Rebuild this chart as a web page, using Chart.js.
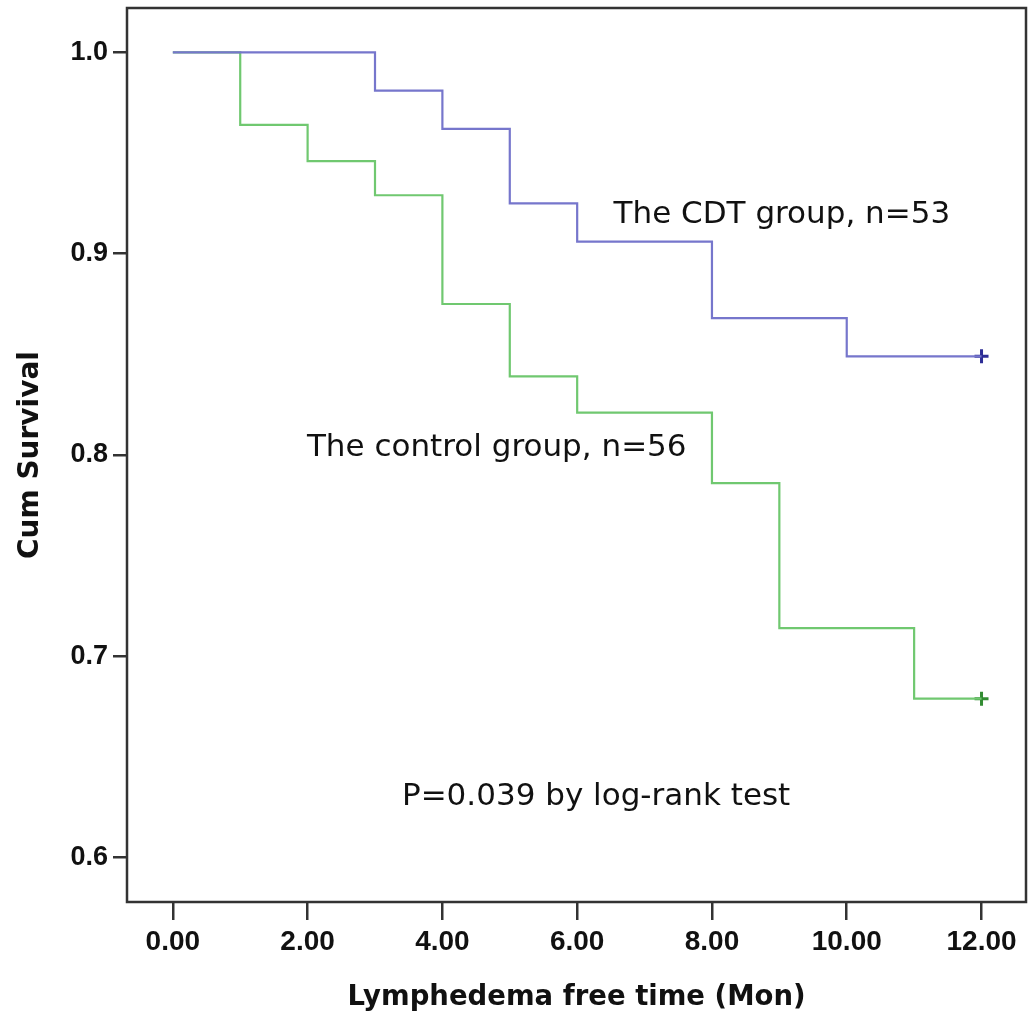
<!DOCTYPE html>
<html>
<head>
<meta charset="utf-8">
<script src="https://cdn.jsdelivr.net/npm/chart.js@4/dist/chart.umd.min.js"></script>
<style>
  body { margin: 0; background: #fff; }
  #wrap { width: 1028px; height: 1019px; position: relative; }
</style>
</head>
<body>
<div id="wrap"><canvas id="kmChart"></canvas></div>
<script>
// survival steps (time in months, cumulative survival)
const cdtTime = [0, 3, 4, 5, 6, 8, 10, 12];
const cdtSurv = [1.0, 0.981, 0.962, 0.925, 0.906, 0.868, 0.849, 0.849];
const ctrlTime = [0, 1, 2, 3, 4, 5, 6, 8, 9, 11, 12];
const ctrlSurv = [1.0, 0.964, 0.946, 0.929, 0.875, 0.839, 0.821, 0.786, 0.714, 0.679, 0.679];

// censored marks
const cdtCensorTime = [12];
const cdtCensorSurv = [0.849];
const ctrlCensorTime = [12];
const ctrlCensorSurv = [0.679];

const xTicks = [0, 2, 4, 6, 8, 10, 12];
const yTicks = [0.6, 0.7, 0.8, 0.9, 1.0];

// in-plot notes, anchored at data coordinates (left edge, middle)
const noteTexts = ['The CDT group, n=53', 'The control group, n=56', 'P=0.039 by log-rank test'];
const noteX = [6.54, 1.99, 3.40];
const noteY = [0.919, 0.8035, 0.630];

const toPoints = (xs, ys) => xs.map((x, i) => ({ x: x, y: ys[i] }));

// frame around the plot + text notes
const framePlugin = {
  id: 'frame',
  afterDatasetsDraw(chart) {
    const { ctx, chartArea: a, scales } = chart;
    ctx.save();
    ctx.strokeStyle = '#333';
    ctx.lineWidth = 2.5;
    ctx.strokeRect(a.left, a.top, a.right - a.left, a.bottom - a.top);
    ctx.fillStyle = '#111';
    ctx.font = '31px "DejaVu Sans"';
    ctx.textAlign = 'left';
    ctx.textBaseline = 'middle';
    noteTexts.forEach((t, i) => {
      ctx.fillText(t, scales.x.getPixelForValue(noteX[i]), scales.y.getPixelForValue(noteY[i]));
    });
    ctx.restore();
  }
};

const ctx = document.getElementById('kmChart').getContext('2d');
new Chart(ctx, {
  type: 'line',
  data: {
    datasets: [
      {
        label: 'The CDT group',
        data: toPoints(cdtTime, cdtSurv),
        borderColor: 'rgb(118, 118, 204)',
        borderWidth: 2.2,
        stepped: 'before',
        pointRadius: 0,
        fill: false
      },
      {
        label: 'The control group',
        data: toPoints(ctrlTime, ctrlSurv),
        borderColor: 'rgb(112, 200, 112)',
        borderWidth: 2.2,
        stepped: 'before',
        pointRadius: 0,
        fill: false
      },
      {
        label: 'CDT censored',
        data: toPoints(cdtCensorTime, cdtCensorSurv),
        showLine: false,
        pointStyle: 'cross',
        pointRadius: 7,
        borderColor: 'rgb(45, 45, 150)',
        pointBorderWidth: 3
      },
      {
        label: 'Control censored',
        data: toPoints(ctrlCensorTime, ctrlCensorSurv),
        showLine: false,
        pointStyle: 'cross',
        pointRadius: 7,
        borderColor: 'rgb(50, 140, 50)',
        pointBorderWidth: 3
      }
    ]
  },
  options: {
    responsive: true,
    maintainAspectRatio: false,
    animation: false,
    layout: { autoPadding: false, padding: { top: 8, right: 2, left: 0, bottom: 0 } },
    plugins: {
      legend: { display: false },
      tooltip: { enabled: false }
    },
    scales: {
      x: {
        type: 'linear',
        min: -0.68,
        max: 12.66,
        afterBuildTicks: axis => { axis.ticks = xTicks.map(v => ({ value: v })); },
        afterFit: axis => {
          axis.height = 117;
          axis.paddingLeft = 0;
          axis.paddingRight = 0;
        },
        border: { display: false },
        grid: { drawOnChartArea: false, drawTicks: true, tickLength: 18, color: '#333', lineWidth: 2.5 },
        ticks: {
          color: '#111',
          padding: 5,
          maxRotation: 0,
          font: { family: '"Liberation Sans", Arial', size: 28, weight: 'bold' },
          callback: v => v.toFixed(2)
        },
        title: {
          display: true,
          text: 'Lymphedema free time (Mon)',
          color: '#111',
          padding: { top: 0, bottom: 5 },
          font: { family: '"DejaVu Sans"', size: 27.5, weight: 'bold' }
        }
      },
      y: {
        type: 'linear',
        min: 0.578,
        max: 1.022,
        afterBuildTicks: axis => { axis.ticks = yTicks.map(v => ({ value: v })); },
        afterFit: axis => {
          axis.width = 127;
          axis.paddingTop = 0;
          axis.paddingBottom = 0;
        },
        border: { display: false },
        grid: { drawOnChartArea: false, drawTicks: true, tickLength: 14, color: '#333', lineWidth: 2.5 },
        ticks: {
          color: '#111',
          padding: 5,
          font: { family: '"Liberation Sans", Arial', size: 27, weight: 'bold' },
          callback: v => v.toFixed(1)
        },
        title: {
          display: true,
          text: 'Cum Survival',
          color: '#111',
          padding: { top: 14, bottom: 0 },
          font: { family: '"DejaVu Sans"', size: 28, weight: 'bold' }
        }
      }
    }
  },
  plugins: [framePlugin]
});
</script>
</body>
</html>
